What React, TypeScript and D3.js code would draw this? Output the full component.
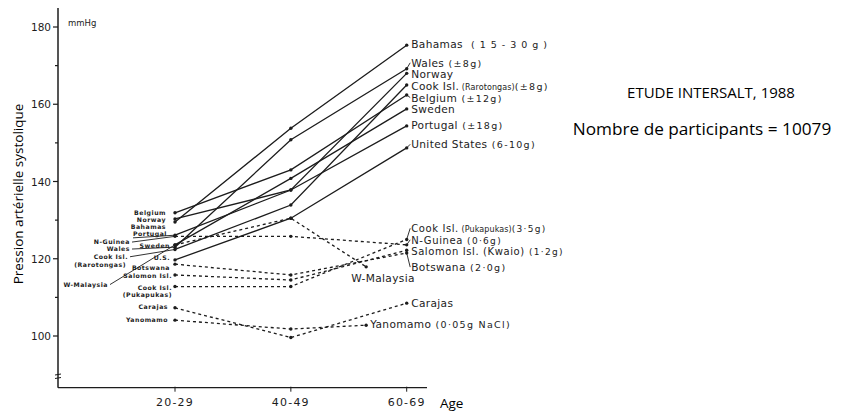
import * as d3 from "d3";

// age groups (midpoints used for the x scale)
const ageMid = [25, 45, 65];
const ageLabels = ["20-29", "40-49", "60-69"];

// centres and systolic BP (mmHg)
const centres = [
  "Bahamas", "Wales", "Norway", "Cook Isl. (Rarotongas)", "Belgium", "Sweden",
  "Portugal", "United States", "N-Guinea", "W-Malaysia", "Botswana",
  "Salomon Isl.", "Cook Isl. (Pukapukas)", "Carajas", "Yanomamo",
];
const sbp2029 = [129.5, 123.0, 130.3, 122.4, 131.9, 123.6, 126.1, 119.7, 125.8, 123.6, 118.6, 115.8, 112.8, 107.3, 104.1];
const sbp4049 = [153.8, 150.8, 137.8, 133.9, 143.0, 140.8, 137.8, 130.5, 125.8, 130.5, 115.8, 114.5, 112.8, 99.6, 101.8];
const sbp6069 = [175.3, 169.2, 168.0, 165.0, 162.4, 158.8, 154.4, 148.7, 123.6, 117.9, 121.5, 122.2, 125.0, 108.5, 102.8];
// last age point (two centres stop earlier on the figure)
const lastAge = [65, 65, 65, 65, 65, 65, 65, 65, 65, 58, 65, 65, 65, 65, 58];
const dashed = [false, false, false, false, false, false, false, false, true, true, true, true, true, true, true];

// right-hand labels: name, small note, salt intake
const rightName = ["Bahamas", "Wales", "Norway", "Cook Isl.", "Belgium", "Sweden", "Portugal", "United States",
  "N-Guinea", "W-Malaysia", "Botswana", "Salomon Isl. (Kwaio)", "Cook Isl.", "Carajas", "Yanomamo"];
const rightNote = ["", "", "", "(Rarotongas)", "", "", "", "", "", "", "", "", "(Pukapukas)", "", ""];
const rightSalt = ["(15-30g)", "(±8g)", "", "(±8g)", "(±12g)", "", "(±18g)", "(6-10g)",
  "(0·6g)", "", "(2·0g)", "(1·2g)", "(3·5g)", "", "(0·05g NaCl)"];
// label baselines in mmHg
const rightLabelAt = [174.5, 169.7, 166.7, 163.7, 160.7, 157.8, 153.5, 148.6, 123.87, 114.1, 116.8, 120.9, 126.85, 107.6, 102.1];

// left-hand labels (one text line each)
const leftText = ["Belgium", "Norway", "Bahamas", "Portugal", "N-Guinea", "Sweden", "Wales", "Cook Isl.",
  "(Rarotongas)", "U.S.", "Botswana", "Salomon Isl.", "W-Malaysia", "Cook Isl.", "(Pukapukas)", "Carajas", "Yanomamo"];
// baselines in mmHg
const leftAt = [131.3, 129.5, 127.8, 125.8, 123.8, 122.9, 122.0, 120.0, 117.9, 119.6, 117.0, 115.1, 112.8, 112.0, 110.2, 106.9, 103.6];
const leftEnd = [166, 166, 166, 167, 130, 170, 130, 128, 126, 170, 170, 172, 108, 172, 172, 168, 168];

const yTicks = [100, 120, 140, 160, 180];
const yMinor = [110, 130, 150, 170];

const W = 844;
const H = 412;
const INK = "#1c1c1c";
const TECH = "'DejaVu Sans', sans-serif";
const TITLE = "'Open Sans', sans-serif";
const TIGHT = [8, 11, 12]; // crowded labels in the lower group

export default function App() {
  const yScale = d3.scaleLinear().domain([100, 180]).range([336, 27]);
  const xScale = d3.scaleLinear().domain([25, 65]).range([175, 406.7]);
  const axisX = 58;
  const axisY = 387.7;

  const line = d3
    .line<[number, number]>()
    .x((d) => xScale(d[0]))
    .y((d) => yScale(d[1]));

  const series = centres.map((c, i) => {
    const pts: [number, number][] = [
      [ageMid[0], sbp2029[i]],
      [ageMid[1], sbp4049[i]],
      [lastAge[i], sbp6069[i]],
    ];
    return { name: c, pts, dashed: dashed[i] };
  });

  return (
    <svg width={W} height={H} style={{ position: "absolute", left: 0, top: 0, background: "#fff" }}>
      {/* axes */}
      <line x1={axisX} x2={axisX} y1={8} y2={axisY} stroke={INK} strokeWidth={1.5} />
      <line x1={axisX} x2={427} y1={axisY} y2={axisY} stroke={INK} strokeWidth={1.3} />
      {/* axis break */}
      <line x1={axisX - 3} x2={axisX + 3} y1={375} y2={374} stroke={INK} strokeWidth={1} />
      <line x1={axisX - 3} x2={axisX + 3} y1={378.5} y2={377.5} stroke={INK} strokeWidth={1} />
      {yTicks.map((t) => (
        <g key={t}>
          <line x1={axisX - 5} x2={axisX} y1={yScale(t)} y2={yScale(t)} stroke={INK} strokeWidth={1.2} />
          <text x={axisX - 7} y={yScale(t) + 4} textAnchor="end" fontFamily={TECH} fontSize={10.5} fill={INK}>
            {t}
          </text>
        </g>
      ))}
      {yMinor.map((t) => (
        <line key={t} x1={axisX - 3} x2={axisX} y1={yScale(t)} y2={yScale(t)} stroke={INK} strokeWidth={1.2} />
      ))}
      <text x={68} y={26} fontFamily={TECH} fontSize={8.5} fill={INK}>mmHg</text>
      {ageMid.map((a, i) => (
        <g key={a}>
          <line x1={xScale(a)} x2={xScale(a)} y1={axisY - 1} y2={axisY + 4} stroke={INK} strokeWidth={1} />
          <text x={xScale(a)} y={406} textAnchor="middle" fontFamily={TECH} fontSize={11} letterSpacing={1.2} fill={INK}>
            {ageLabels[i]}
          </text>
        </g>
      ))}
      <text x={440} y={408} fontFamily={TITLE} fontSize={13.5} fill="#000">Age</text>
      <text
        transform={`translate(23,194) rotate(-90)`}
        textAnchor="middle"
        fontFamily={TITLE}
        fontSize={13.5}
        fill="#000"
      >
        Pression artérielle systolique
      </text>

      {/* series */}
      {series.map((s) => (
        <g key={s.name}>
          <path
            d={line(s.pts) ?? ""}
            fill="none"
            stroke={INK}
            strokeWidth={1.3}
            strokeDasharray={s.dashed ? "3,3" : undefined}
          />
          {s.pts.map((p, j) => (
            <circle key={j} cx={xScale(p[0])} cy={yScale(p[1])} r={1.7} fill={INK} />
          ))}
        </g>
      ))}

      {/* right labels */}
      {series.map((s, i) => {
        const last = s.pts[2];
        const px = xScale(last[0]);
        const py = yScale(last[1]);
        const early = lastAge[i] < 65;
        const lx = early ? (i === 14 ? px + 4 : px - 15) : px + 4.5;
        const ly = yScale(rightLabelAt[i]);
        const leaderY = ly - 4;
        const showLeader = !early && Math.abs(leaderY - py) > 1.5;
        const tight = TIGHT.includes(i);
        return (
          <g key={s.name}>
            {showLeader && (
              <line x1={px} y1={py} x2={lx - 1} y2={leaderY} stroke={INK} strokeWidth={0.9} />
            )}
            <text
              x={lx}
              y={ly}
              fontFamily={TECH}
              fontSize={tight ? 10 : 10.6}
              letterSpacing={tight ? 0.6 : 0.35}
              fill={INK}
            >
              {rightName[i]}
              {rightNote[i] && (
                <tspan fontSize={8} letterSpacing={0.1}>{" " + rightNote[i]}</tspan>
              )}
              {rightSalt[i] && (
                <tspan fontSize={tight ? 9 : 9.5} letterSpacing={i === 0 ? 5 : 1.3}>
                  {(rightNote[i] ? "" : " ") + rightSalt[i]}
                </tspan>
              )}
            </text>
          </g>
        );
      })}

      {/* left labels */}
      {leftText.map((t, i) => (
        <text
          key={i}
          x={leftEnd[i]}
          y={yScale(leftAt[i])}
          textAnchor="end"
          fontFamily={TECH}
          fontWeight="bold"
          fontSize={6.2}
          letterSpacing={0.5}
          fill={INK}
        >
          {t}
        </text>
      ))}
      {/* leaders from left labels to the 20-29 points */}
      {[
        [4, 8],
        [6, 1],
        [7, 3],
        [12, 9],
      ].map(([li, si]) => (
        <line
          key={li}
          x1={leftEnd[li] + 2}
          y1={yScale(leftAt[li]) - 2}
          x2={xScale(ageMid[0])}
          y2={yScale(sbp2029[si])}
          stroke={INK}
          strokeWidth={0.9}
        />
      ))}
      <line x1={133} x2={xScale(ageMid[0])} y1={yScale(leftAt[3]) + 1.5} y2={yScale(sbp2029[6])} stroke={INK} strokeWidth={0.9} />

      {/* study notes */}
      <text x={711} y={98} textAnchor="middle" fontFamily={TITLE} fontSize={15} fill="#000">
        ETUDE INTERSALT, 1988
      </text>
      <text x={702} y={135} textAnchor="middle" fontFamily={TITLE} fontSize={17.2} fill="#000">
        Nombre de participants = 10079
      </text>
    </svg>
  );
}
